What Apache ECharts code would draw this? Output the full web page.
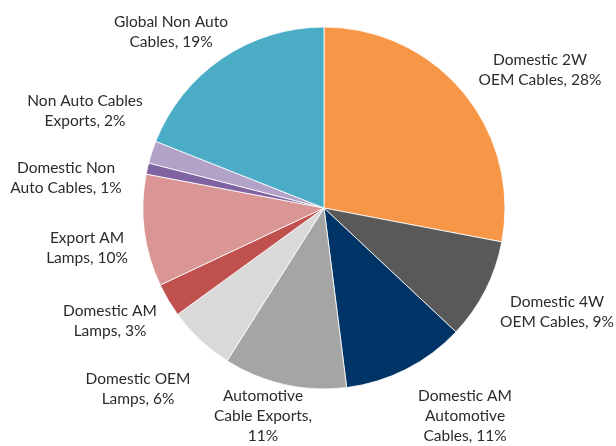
<!DOCTYPE html>
<html>
<head>
<meta charset="utf-8">
<script src="https://cdn.jsdelivr.net/npm/echarts@6/dist/echarts.min.js"></script>
<style>
  html, body { margin: 0; padding: 0; background: #fff; }
  #main { width: 616px; height: 446px; }
</style>
</head>
<body>
<div id="main"></div>
<script>
// slice names, clockwise from 12 o'clock
var categories = [
  "Domestic 2W\nOEM Cables",
  "Domestic 4W\nOEM Cables",
  "Domestic AM\nAutomotive\nCables",
  "Automotive\nCable Exports",
  "Domestic OEM\nLamps",
  "Domestic AM\nLamps",
  "Export AM\nLamps",
  "Domestic Non\nAuto Cables",
  "Non Auto Cables\nExports",
  "Global Non Auto\nCables"
];
var shares = [28, 9, 11, 11, 6, 3, 10, 1, 2, 19];
var colors = ["#F79646", "#595959", "#003366", "#A5A5A5", "#D9D9D9",
              "#C0504D", "#D99694", "#8064A2", "#B3A2C7", "#4BACC6"];

// where each label block sits (centre of the text)
var labelPos = [
  [540, 70], [557, 312], [465, 416], [263, 416], [138, 389],
  [110, 321], [87, 248], [66, 178], [85, 111], [171, 32]
];

var chart = echarts.init(document.getElementById("main"));
chart.setOption({
  animation: false,
  series: [
    {
      type: "pie",
      center: [324, 208],
      radius: 181,
      startAngle: 90,
      clockwise: true,
      itemStyle: {
        borderColor: "#ffffff",
        borderWidth: 0.8
      },
      label: {
        show: true,
        position: "outside",
        overflow: "none",
        fontFamily: "Lato",
        fontSize: 15.5,
        lineHeight: 20,
        color: "#2b2b2b",
        align: "center",
        formatter: function (p) {
          var sep = p.dataIndex === 3 ? ",\n" : ", ";
          return p.name + sep + p.value + "%";
        }
      },
      labelLine: { show: false },
      labelLayout: function (p) {
        var pos = labelPos[p.dataIndex];
        return {
          x: pos[0],
          y: pos[1],
          width: 200,
          align: "center",
          verticalAlign: "middle"
        };
      },
      data: categories.map(function (name, i) {
        return { name: name, value: shares[i], itemStyle: { color: colors[i] } };
      })
    }
  ]
});
</script>
</body>
</html>
